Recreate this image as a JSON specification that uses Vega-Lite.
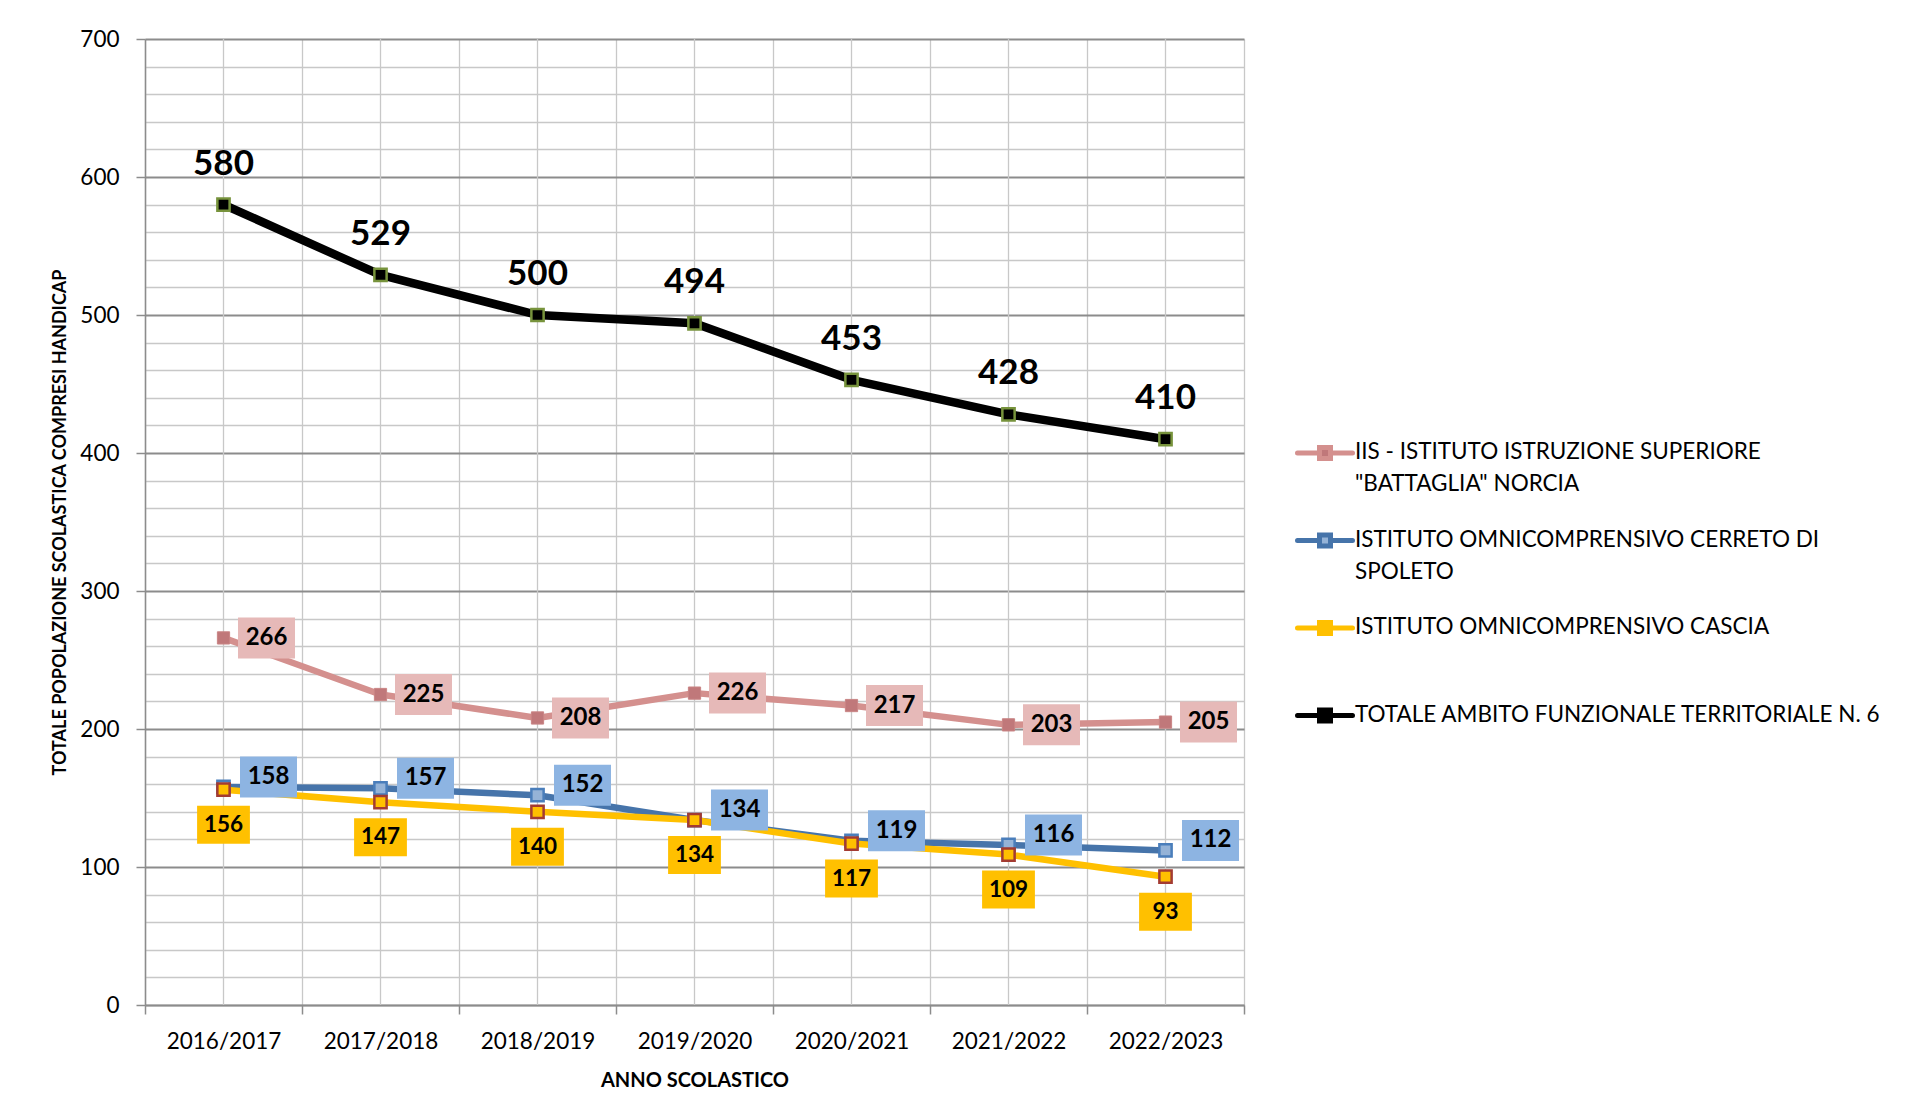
{
  "$schema": "https://vega.github.io/schema/vega-lite/v6.json",
  "autosize": {"type": "none"},
  "padding": {"left": 145, "top": 39, "right": 680, "bottom": 115},
  "width": 1099,
  "height": 966,
  "background": "white",
  "config": {"font": "Lato", "view": {"stroke": null}},
  "data": {"values": [
    {"anno": "2016/2017", "serie": "IIS - ISTITUTO ISTRUZIONE SUPERIORE \"BATTAGLIA\" NORCIA", "valore": 266},
    {"anno": "2017/2018", "serie": "IIS - ISTITUTO ISTRUZIONE SUPERIORE \"BATTAGLIA\" NORCIA", "valore": 225},
    {"anno": "2018/2019", "serie": "IIS - ISTITUTO ISTRUZIONE SUPERIORE \"BATTAGLIA\" NORCIA", "valore": 208},
    {"anno": "2019/2020", "serie": "IIS - ISTITUTO ISTRUZIONE SUPERIORE \"BATTAGLIA\" NORCIA", "valore": 226},
    {"anno": "2020/2021", "serie": "IIS - ISTITUTO ISTRUZIONE SUPERIORE \"BATTAGLIA\" NORCIA", "valore": 217},
    {"anno": "2021/2022", "serie": "IIS - ISTITUTO ISTRUZIONE SUPERIORE \"BATTAGLIA\" NORCIA", "valore": 203},
    {"anno": "2022/2023", "serie": "IIS - ISTITUTO ISTRUZIONE SUPERIORE \"BATTAGLIA\" NORCIA", "valore": 205},
    {"anno": "2016/2017", "serie": "ISTITUTO OMNICOMPRENSIVO CERRETO DI SPOLETO", "valore": 158},
    {"anno": "2017/2018", "serie": "ISTITUTO OMNICOMPRENSIVO CERRETO DI SPOLETO", "valore": 157},
    {"anno": "2018/2019", "serie": "ISTITUTO OMNICOMPRENSIVO CERRETO DI SPOLETO", "valore": 152},
    {"anno": "2019/2020", "serie": "ISTITUTO OMNICOMPRENSIVO CERRETO DI SPOLETO", "valore": 134},
    {"anno": "2020/2021", "serie": "ISTITUTO OMNICOMPRENSIVO CERRETO DI SPOLETO", "valore": 119},
    {"anno": "2021/2022", "serie": "ISTITUTO OMNICOMPRENSIVO CERRETO DI SPOLETO", "valore": 116},
    {"anno": "2022/2023", "serie": "ISTITUTO OMNICOMPRENSIVO CERRETO DI SPOLETO", "valore": 112},
    {"anno": "2016/2017", "serie": "ISTITUTO OMNICOMPRENSIVO CASCIA", "valore": 156},
    {"anno": "2017/2018", "serie": "ISTITUTO OMNICOMPRENSIVO CASCIA", "valore": 147},
    {"anno": "2018/2019", "serie": "ISTITUTO OMNICOMPRENSIVO CASCIA", "valore": 140},
    {"anno": "2019/2020", "serie": "ISTITUTO OMNICOMPRENSIVO CASCIA", "valore": 134},
    {"anno": "2020/2021", "serie": "ISTITUTO OMNICOMPRENSIVO CASCIA", "valore": 117},
    {"anno": "2021/2022", "serie": "ISTITUTO OMNICOMPRENSIVO CASCIA", "valore": 109},
    {"anno": "2022/2023", "serie": "ISTITUTO OMNICOMPRENSIVO CASCIA", "valore": 93},
    {"anno": "2016/2017", "serie": "TOTALE AMBITO FUNZIONALE TERRITORIALE N. 6", "valore": 580},
    {"anno": "2017/2018", "serie": "TOTALE AMBITO FUNZIONALE TERRITORIALE N. 6", "valore": 529},
    {"anno": "2018/2019", "serie": "TOTALE AMBITO FUNZIONALE TERRITORIALE N. 6", "valore": 500},
    {"anno": "2019/2020", "serie": "TOTALE AMBITO FUNZIONALE TERRITORIALE N. 6", "valore": 494},
    {"anno": "2020/2021", "serie": "TOTALE AMBITO FUNZIONALE TERRITORIALE N. 6", "valore": 453},
    {"anno": "2021/2022", "serie": "TOTALE AMBITO FUNZIONALE TERRITORIALE N. 6", "valore": 428},
    {"anno": "2022/2023", "serie": "TOTALE AMBITO FUNZIONALE TERRITORIALE N. 6", "valore": 410}
  ]},
  "layer": [
    {
      "transform": [{"filter": "indexof(datum.serie, 'TOTALE') == 0"}],
      "mark": {"type": "rule", "color": "#c8c8c8", "strokeWidth": 1.3},
      "encoding": {
        "x": {"field": "anno", "type": "ordinal", "sort": null, "scale": {"type": "band", "paddingInner": 0, "paddingOuter": 0},
          "axis": {"title": "ANNO SCOLASTICO", "tickBand": "extent", "grid": true, "gridColor": "#c8c8c8", "gridWidth": 1.3,
            "tickColor": "#8c8c8c", "tickSize": 9, "tickWidth": 1.5, "domainColor": "#8c8c8c", "domainWidth": 1.5,
            "labelAngle": 0, "labelFont": "Lato", "labelFontSize": 22.5, "labelColor": "#000000", "labelPadding": 16.5,
            "titleFont": "Lato", "titleFontSize": 20, "titleFontWeight": "bold", "titleColor": "#000000", "titlePadding": 17.5}}
      }
    },
    {
      "mark": {"type": "line", "strokeWidth": 6.5, "strokeCap": "round", "strokeJoin": "round"},
      "encoding": {
        "x": {"field": "anno", "type": "ordinal", "sort": null},
        "y": {"field": "valore", "type": "quantitative", "scale": {"domain": [0, 700], "nice": false},
          "axis": {"title": "TOTALE POPOLAZIONE SCOLASTICA COMPRESI  HANDICAP",
            "values": [0,20,40,60,80,100,120,140,160,180,200,220,240,260,280,300,320,340,360,380,400,420,440,460,480,500,520,540,560,580,600,620,640,660,680,700],
            "tickCount": 100,
            "labelExpr": "datum.value % 100 === 0 ? datum.label : ''",
            "labelOverlap": false,
            "grid": true,
            "gridColor": {"condition": {"test": "datum.value % 100 === 0", "value": "#8c8c8c"}, "value": "#c8c8c8"},
            "gridWidth": {"condition": {"test": "datum.value % 100 === 0", "value": 2}, "value": 1.3},
            "tickOpacity": {"condition": {"test": "datum.value % 100 === 0", "value": 1}, "value": 0},
            "tickColor": "#8c8c8c", "tickSize": 9, "tickWidth": 1.5, "domainColor": "#8c8c8c", "domainWidth": 1.5,
            "labelFont": "Lato", "labelFontSize": 22.5, "labelColor": "#000000", "labelPadding": 17,
            "titleFont": "Lato", "titleFontSize": 18, "titleFontWeight": "bold", "titleColor": "#000000", "titlePadding": 10}},
        "stroke": {"field": "serie", "type": "nominal", "sort": null,
          "scale": {"domain": ["IIS - ISTITUTO ISTRUZIONE SUPERIORE \"BATTAGLIA\" NORCIA", "ISTITUTO OMNICOMPRENSIVO CERRETO DI SPOLETO", "ISTITUTO OMNICOMPRENSIVO CASCIA", "TOTALE AMBITO FUNZIONALE TERRITORIALE N. 6"],
                    "range": ["#d4908e", "#4674aa", "#ffc000", "#000000"]},
          "legend": {"orient": "none", "legendX": 1150, "legendY": 384, "title": null, "padding": 0,
            "symbolType": "M-1,0L-0.2,0M0.2,0L1,0M-0.2,-0.2L0.2,-0.2L0.2,0.2L-0.2,0.2Z",
            "symbolSize": 3025, "symbolStrokeWidth": 5,
            "labelFont": "Lato", "labelFontSize": 22.5, "labelColor": "#000000", "labelLimit": 800, "labelOffset": 0,
            "labelBaseline": "top", "rowPadding": 14.5,
            "labelExpr": "indexof(datum.label, 'IIS') == 0 ? ['IIS - ISTITUTO ISTRUZIONE SUPERIORE', '\"BATTAGLIA\" NORCIA'] : indexof(datum.label, 'CERRETO') >= 0 ? ['ISTITUTO OMNICOMPRENSIVO CERRETO DI', 'SPOLETO'] : [datum.label, ' ']",
            "encode": {
              "labels": {"update": {"lineHeight": {"value": 32}, "dy": {"value": -12}}},
              "symbols": {"update": {"fill": {"signal": "indexof(datum.value, 'IIS') == 0 ? '#c0787a' : indexof(datum.value, 'CERRETO') >= 0 ? '#95b3d7' : indexof(datum.value, 'CASCIA') >= 0 ? '#ffc000' : '#000000'"}, "strokeCap": {"value": "round"}}}
            }}
        }
      }
    },
    {
      "transform": [{"filter": "indexof(datum.serie, 'TOTALE') == 0"}],
      "mark": {"type": "line", "color": "#000000", "strokeWidth": 8.5, "strokeJoin": "round"},
      "encoding": {
        "x": {"field": "anno", "type": "ordinal", "sort": null},
        "y": {"field": "valore", "type": "quantitative"}
      }
    },
    {
      "transform": [{"filter": "indexof(datum.serie, 'IIS') == 0"}],
      "mark": {"type": "point", "shape": "square", "size": 150, "filled": true, "fill": "#c0787a", "stroke": "#c98585", "strokeWidth": 1, "opacity": 1},
      "encoding": {"x": {"field": "anno", "type": "ordinal", "sort": null}, "y": {"field": "valore", "type": "quantitative"}}
    },
    {
      "transform": [{"filter": "indexof(datum.serie, 'CERRETO') >= 0"}],
      "mark": {"type": "point", "shape": "square", "size": 150, "filled": true, "fill": "#95b3d7", "stroke": "#4a7ebb", "strokeWidth": 2.5, "opacity": 1},
      "encoding": {"x": {"field": "anno", "type": "ordinal", "sort": null}, "y": {"field": "valore", "type": "quantitative"}}
    },
    {
      "transform": [{"filter": "indexof(datum.serie, 'CASCIA') >= 0"}],
      "mark": {"type": "point", "shape": "square", "size": 150, "filled": true, "fill": "#ffc000", "stroke": "#a33b32", "strokeWidth": 2.5, "opacity": 1},
      "encoding": {"x": {"field": "anno", "type": "ordinal", "sort": null}, "y": {"field": "valore", "type": "quantitative"}}
    },
    {
      "transform": [{"filter": "indexof(datum.serie, 'TOTALE') == 0"}],
      "mark": {"type": "point", "shape": "square", "size": 150, "filled": true, "fill": "#000000", "stroke": "#77933c", "strokeWidth": 2.5, "opacity": 1},
      "encoding": {"x": {"field": "anno", "type": "ordinal", "sort": null}, "y": {"field": "valore", "type": "quantitative"}}
    },
    {
      "transform": [{"filter": "indexof(datum.serie, 'IIS') == 0"}],
      "mark": {"type": "point", "shape": "M-1.39,-1L1.39,-1L1.39,1L-1.39,1Z", "size": 1681, "filled": true, "fill": "#e6b9b8", "strokeWidth": 0, "opacity": 1, "xOffset": 43},
      "encoding": {"x": {"field": "anno", "type": "ordinal", "sort": null}, "y": {"field": "valore", "type": "quantitative"}}
    },
    {
      "transform": [{"filter": "indexof(datum.serie, 'IIS') == 0"}],
      "mark": {"type": "text", "font": "Lato", "fontWeight": "bold", "fontSize": 24, "color": "#000000", "dx": 43},
      "encoding": {"x": {"field": "anno", "type": "ordinal", "sort": null}, "y": {"field": "valore", "type": "quantitative"}, "text": {"field": "valore", "type": "quantitative"}}
    },
    {
      "transform": [{"filter": "indexof(datum.serie, 'CERRETO') >= 0"}],
      "mark": {"type": "point", "shape": "M-1.39,-1L1.39,-1L1.39,1L-1.39,1Z", "size": 1681, "filled": true, "fill": "#8db4e2", "strokeWidth": 0, "opacity": 1, "xOffset": 45, "yOffset": -10},
      "encoding": {"x": {"field": "anno", "type": "ordinal", "sort": null}, "y": {"field": "valore", "type": "quantitative"}}
    },
    {
      "transform": [{"filter": "indexof(datum.serie, 'CERRETO') >= 0"}],
      "mark": {"type": "text", "font": "Lato", "fontWeight": "bold", "fontSize": 24, "color": "#000000", "dx": 45, "dy": -10},
      "encoding": {"x": {"field": "anno", "type": "ordinal", "sort": null}, "y": {"field": "valore", "type": "quantitative"}, "text": {"field": "valore", "type": "quantitative"}}
    },
    {
      "transform": [{"filter": "indexof(datum.serie, 'CASCIA') >= 0"}],
      "mark": {"type": "point", "shape": "M-1.39,-1L1.39,-1L1.39,1L-1.39,1Z", "size": 1444, "filled": true, "fill": "#ffc000", "strokeWidth": 0, "opacity": 1, "yOffset": 35},
      "encoding": {"x": {"field": "anno", "type": "ordinal", "sort": null}, "y": {"field": "valore", "type": "quantitative"}}
    },
    {
      "transform": [{"filter": "indexof(datum.serie, 'CASCIA') >= 0"}],
      "mark": {"type": "text", "font": "Lato", "fontWeight": "bold", "fontSize": 22.5, "color": "#000000", "dy": 35},
      "encoding": {"x": {"field": "anno", "type": "ordinal", "sort": null}, "y": {"field": "valore", "type": "quantitative"}, "text": {"field": "valore", "type": "quantitative"}}
    },
    {
      "transform": [{"filter": "indexof(datum.serie, 'TOTALE') == 0"}],
      "mark": {"type": "text", "font": "Lato", "fontWeight": "bold", "fontSize": 35, "color": "#000000", "dy": -41},
      "encoding": {"x": {"field": "anno", "type": "ordinal", "sort": null}, "y": {"field": "valore", "type": "quantitative"}, "text": {"field": "valore", "type": "quantitative"}}
    }
  ]
}
